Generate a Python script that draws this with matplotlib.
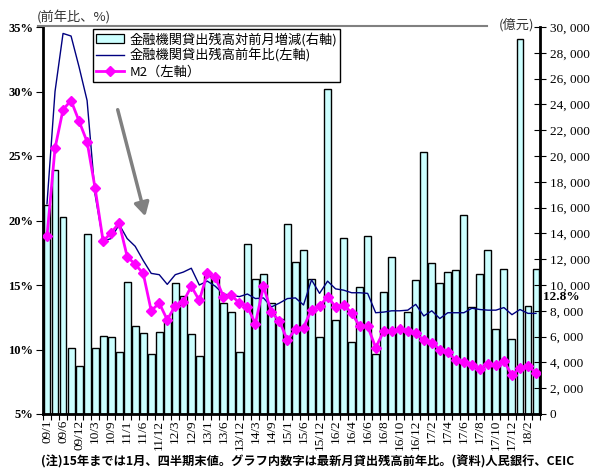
import matplotlib
matplotlib.use("Agg")
import matplotlib.pyplot as plt
from matplotlib.patches import FancyArrowPatch, Patch
from matplotlib.lines import Line2D
from matplotlib.ticker import FixedLocator, FuncFormatter

# ---- data ----
periods = (
    [f"{y:02d}/{m}" for y in range(9, 16) for m in (1, 3, 6, 9, 12)]
    + [f"16/{m}" for m in range(1, 13)]
    + [f"17/{m}" for m in range(1, 13)]
    + ["18/1", "18/2", "18/3"]
)

# month-on-month change of outstanding loans (100 million yuan, right axis)
loan_change = [
    16200, 18900, 15300, 5140, 3750,
    13930, 5100, 6050, 5950, 4830,
    10200, 6800, 6300, 4650, 6380,
    7300, 10130, 9150, 6200, 4480,
    10700, 10620, 8580, 7880, 4830,
    13180, 10460, 10830, 8580, 7400,
    14700, 11760, 12680, 10480, 5940,
    25180, 7260, 13670, 5560, 9820, 13820, 4630, 9480, 12200, 6500, 7930, 10390,
    20330, 11680, 10190, 10970, 11130, 15400, 8280, 10890, 12680, 6610, 11220, 5800,
    29100, 8410, 11220,
]

# year-on-year growth of outstanding loans (%, left axis)
loan_yoy = [
    21.3, 30.0, 34.5, 34.3, 31.9,
    29.3, 22.0, 18.4, 18.6, 19.7,
    18.6, 18.0, 16.9, 15.9, 15.8,
    15.05, 15.8, 16.0, 16.3, 15.0,
    15.3, 14.9, 14.3, 14.2, 14.1,
    14.3, 13.95, 14.0, 13.3, 13.6,
    13.95, 14.0, 13.45, 15.4, 14.35,
    15.3, 14.7, 14.6, 14.4, 14.4, 14.35, 12.85, 12.9, 13.0, 13.0, 13.05, 13.5,
    12.6, 13.0, 12.4, 12.85, 12.85, 12.85, 13.2, 13.1, 13.05, 13.05, 13.25, 12.7,
    13.1, 12.8, 12.8,
]

# M2 year-on-year growth (%, left axis)
m2_yoy = [
    18.8, 25.6, 28.6, 29.3, 27.7,
    26.1, 22.5, 18.4, 19.05, 19.8,
    17.2, 16.6, 15.9, 13.0, 13.6,
    12.3, 13.4, 13.7, 14.9, 13.8,
    15.9, 15.6, 14.1, 14.2, 13.6,
    13.3, 12.0, 14.9, 12.9, 12.2,
    10.7, 11.6, 11.7, 13.1, 13.35,
    14.1, 13.3, 13.45, 12.85, 11.8, 11.8, 10.15, 11.4, 11.4, 11.6, 11.4, 11.25,
    10.7, 10.5, 10.0, 9.8, 9.15, 9.05, 8.8, 8.45, 8.9, 8.8, 9.1, 8.0,
    8.55, 8.75, 8.2,
]

legend_labels = ["金融機関貸出残高対前月増減(右軸)", "金融機関貸出残高前年比(左軸)", "M2（左軸）"]
left_ticks = [5, 10, 15, 20, 25, 30, 35]
right_ticks = list(range(0, 30001, 2000))
latest_label = "12.8%"
note = "(注)15年までは1月、四半期末値。グラフ内数字は最新月貸出残高前年比。(資料)人民銀行、CEIC"

JP = ["Noto Sans CJK JP", "DejaVu Sans"]
SERIF = ["Liberation Serif", "DejaVu Serif"]

W, H = 595, 468
fig = plt.figure(figsize=(W / 100, H / 100), dpi=100)
L, R, T, B = 43, 540, 27, 414
ax = fig.add_axes([L / W, 1 - B / H, (R - L) / W, (B - T) / H])
ax2 = ax.twinx()

x = list(range(len(periods)))

# bars on the right axis, drawn underneath the lines
ax2.bar(x, loan_change, width=0.86, color="#CCFFFF", edgecolor="black",
        linewidth=1.0, zorder=1)
ax2.set_ylim(0, 30000)
ax2.yaxis.set_major_locator(FixedLocator(right_ticks))
ax2.yaxis.set_major_formatter(FuncFormatter(lambda v, p: f"{int(v):,}".replace(",", ", ")))

ax.set_zorder(ax2.get_zorder() + 1)
ax.patch.set_visible(False)
ax.plot(x, loan_yoy, color="#000080", lw=1.0, zorder=3)
ax.plot(x, m2_yoy, color="#FF00FF", lw=2.0, marker="D", markersize=5,
        markerfacecolor="#FF00FF", markeredgecolor="#FF00FF", zorder=4)
ax.set_ylim(5, 35)
ax.set_xlim(-0.5, len(periods) - 0.5)
ax.yaxis.set_major_locator(FixedLocator(left_ticks))
ax.yaxis.set_major_formatter(FuncFormatter(lambda v, p: f"{int(v)}%"))

# x ticks: labels every other period, small ticks at every slot boundary
ax.set_xticks(x[::2])
ax.set_xticklabels(periods[::2], rotation=90, family=SERIF, fontsize=9.5)
ax.tick_params(axis="x", which="major", length=0, pad=4)
ax.set_xticks([i - 0.5 for i in range(len(periods) + 1)], minor=True)
ax.tick_params(axis="x", which="minor", length=4, width=0.8, direction="out")

for lab in ax.get_yticklabels():
    lab.set_family(SERIF)
    lab.set_fontweight("bold")
    lab.set_fontsize(9)
ax.tick_params(axis="y", length=5, width=0.8, direction="out", pad=2)

for lab in ax2.get_yticklabels():
    lab.set_family(SERIF)
    lab.set_fontsize(9.5)
ax2.tick_params(axis="y", length=8, width=0.8, direction="inout", pad=3)

# spines
for a in (ax, ax2):
    a.spines["top"].set_visible(False)
ax.spines["left"].set_linewidth(2)
ax.spines["bottom"].set_linewidth(2)
ax.spines["right"].set_visible(False)
ax2.spines["left"].set_visible(False)
ax2.spines["bottom"].set_visible(False)
ax2.spines["right"].set_linewidth(2)

# grey top rule
fig.add_artist(Line2D([38 / W, 487 / W], [1 - 26 / H, 1 - 26 / H],
                      color="#808080", lw=1.5))

# axis unit labels
fig.text(37 / W, 1 - 18 / H, "(前年比、%)", family=JP, fontsize=9.5,
         ha="left", va="center", color="#333333")
fig.text(534 / W, 1 - 25 / H, "(億元)", family=JP, fontsize=9.5,
         ha="right", va="center", color="#333333")

# latest value label
fig.text(543 / W, 1 - 297 / H, latest_label, family=SERIF, fontweight="bold",
         fontsize=9.5, ha="left", va="center")

# trend arrow
fig.add_artist(FancyArrowPatch((117 / W, 1 - 107 / H), (146 / W, 1 - 219 / H),
                               transform=fig.transFigure,
                               arrowstyle="-|>,head_length=5,head_width=2.8",
                               color="#808080", lw=2.5, mutation_scale=1.6))

# legend
handles = [
    Patch(facecolor="#CCFFFF", edgecolor="black", linewidth=0.9),
    Line2D([], [], color="#000080", lw=1.0),
    Line2D([], [], color="#FF00FF", lw=2.0, marker="D", markersize=5),
]
leg = ax.legend(handles, legend_labels, loc="upper left",
                bbox_to_anchor=(93 / W, 1 - 29 / H), bbox_transform=fig.transFigure,
                prop={"family": JP, "size": 9.5}, frameon=True, fancybox=False,
                edgecolor="black", framealpha=1, borderpad=0.25, labelspacing=0.2,
                handlelength=2.1, handleheight=0.6, handletextpad=0.4, borderaxespad=0)
leg.get_frame().set_linewidth(1.0)

fig.text(41 / W, 1 - 462 / H, note, family=JP, fontsize=8.8, fontweight="bold",
         ha="left", va="center")

fig.savefig("out.png", dpi=100)
